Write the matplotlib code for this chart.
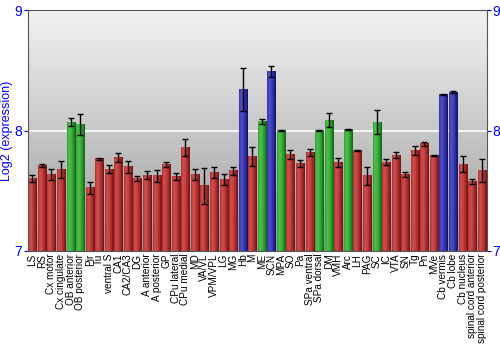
import numpy as np
import matplotlib
matplotlib.use("Agg")
import matplotlib.pyplot as plt
from matplotlib.colors import LinearSegmentedColormap

plt.rcParams['font.family'] = 'Liberation Sans'

labels = ["LS", "RS", "Cx motor", "Cx cingulate", "OB anterior", "OB posterior", "Pir", "Tu",
          "ventral S", "CA1", "CA2/CA3", "DG", "A anterior", "A posterior", "GP", "CPu lateral",
          "CPu medial", "MD", "VA/VL", "VPM/VPL", "LG", "MG", "Hb", "M", "ME", "SCN", "MPA", "SO",
          "Pa", "SPa ventral", "SPa dorsal", "DM", "VMH", "Arc", "LH", "PAG", "SC", "IC", "VTA",
          "SN", "Tg", "Pn", "MVe", "Cb vermis", "Cb lobe", "Cb nucleus",
          "spinal cord anterior", "spinal cord posterior"]
values = [7.60, 7.71, 7.635, 7.68, 8.07, 8.05, 7.525, 7.765, 7.68, 7.776, 7.70, 7.60,
          7.63, 7.625, 7.715, 7.616, 7.86, 7.635, 7.54, 7.65, 7.594, 7.666, 8.343, 7.785,
          8.075, 8.49, 8.0, 7.80, 7.727, 7.815, 8.0, 8.086, 7.735, 8.01, 7.834, 7.624,
          8.07, 7.738, 7.793, 7.635, 7.834, 7.89, 7.793, 8.30, 8.32, 7.72, 7.577, 7.668]
errors = [0.03, 0.01, 0.045, 0.07, 0.035, 0.085, 0.05, 0.01, 0.03, 0.035, 0.05, 0.02,
          0.035, 0.05, 0.02, 0.03, 0.07, 0.045, 0.15, 0.045, 0.045, 0.035, 0.18, 0.08,
          0.02, 0.045, 0.005, 0.035, 0.03, 0.03, 0.005, 0.06, 0.04, 0.005, 0.005, 0.075,
          0.10, 0.025, 0.025, 0.02, 0.04, 0.018, 0.005, 0.007, 0.007, 0.065, 0.018, 0.095]
groups = ["r", "r", "r", "r", "g", "g", "r", "r", "r", "r", "r", "r", "r", "r", "r", "r",
          "r", "r", "r", "r", "r", "r", "b", "r", "g", "b", "g", "r", "r", "r", "g", "g",
          "r", "g", "r", "r", "g", "r", "r", "r", "r", "r", "r", "b", "b", "r", "r", "r"]

cmaps = {
    "r": LinearSegmentedColormap.from_list("r", ["#b03030", "#d05050", "#c04040", "#a02828", "#701010"]),
    "g": LinearSegmentedColormap.from_list("g", ["#30a030", "#50c050", "#40b040", "#289028", "#106010"]),
    "b": LinearSegmentedColormap.from_list("b", ["#3030a8", "#5050c8", "#4040b8", "#282898", "#101060"]),
}

fig = plt.figure(figsize=(5, 3.5), dpi=100)
ax = fig.add_axes([0.055, 0.283, 0.918, 0.688])

n = len(labels)
x = np.arange(n)
ymin, ymax = 7, 9

# background gradient (light at top, darker at bottom)
bg = LinearSegmentedColormap.from_list("bg", ["#f2f2f2", "#c8c8c8", "#989898"])
grad = np.linspace(0, 1, 256).reshape(-1, 1)
ax.imshow(grad, cmap=bg, extent=(-0.5, n - 0.5, ymin, ymax), origin='upper',
          aspect='auto', zorder=0)
ax.axhline(8, color="white", lw=1.2, zorder=1)

w = 0.84
hg = np.linspace(0, 1, 64).reshape(1, -1)
for xi, v, g in zip(x, values, groups):
    ax.imshow(hg, cmap=cmaps[g], extent=(xi - w / 2, xi + w / 2, ymin, v),
              aspect='auto', zorder=2, interpolation='bilinear')
ax.errorbar(x, values, yerr=errors, fmt='none', ecolor='black', elinewidth=1,
            capsize=2.5, capthick=1, zorder=3)

ax.set_xlim(-0.5, n - 0.5)
ax.set_ylim(ymin, ymax)
ax.set_xticks(x)
ax.set_xticklabels(labels, rotation=90, fontsize=7.2)
ax.tick_params(axis='x', length=0, pad=2)
ax.set_yticks([7, 8, 9])
ax.tick_params(axis='y', colors='blue', labelsize=10, length=3, left=True, right=True,
               labelleft=True, labelright=True, pad=1)
for t in ax.get_yticklabels():
    t.set_color('blue')
ax.set_ylabel("Log2 (expression)", color='blue', fontsize=9, labelpad=1)
for s in ax.spines.values():
    s.set_color('#555555')
    s.set_linewidth(0.8)

fig.savefig("out.png", dpi=100)
